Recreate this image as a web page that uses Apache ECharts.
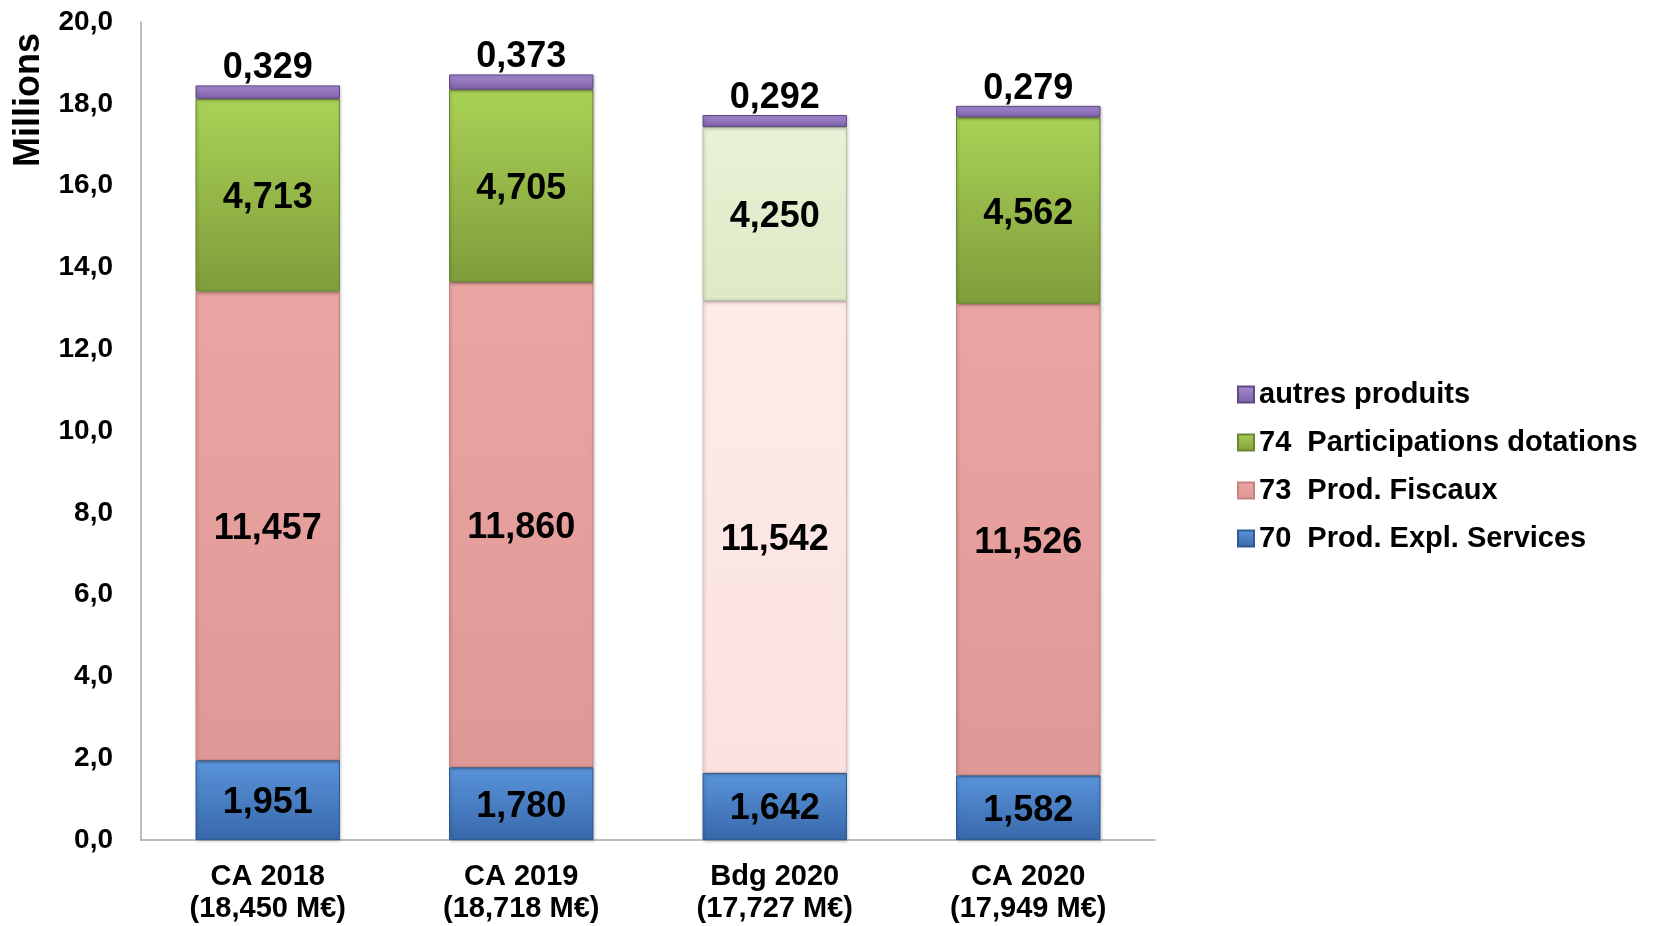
<!DOCTYPE html>
<html>
<head>
<meta charset="utf-8">
<script src="https://cdn.jsdelivr.net/npm/echarts@6/dist/echarts.min.js"></script>
<style>
  html, body { margin: 0; padding: 0; background: #ffffff; }
  #chart { width: 1657px; height: 926px; }
</style>
</head>
<body>
<div id="chart"></div>
<script>
// ---- data ----
const categories = ['CA 2018\n(18,450 M€)', 'CA 2019\n(18,718 M€)', 'Bdg 2020\n(17,727 M€)', 'CA 2020\n(17,949 M€)'];
const prodExplServices = [1.951, 1.780, 1.642, 1.582];   // 70
const prodFiscaux = [11.457, 11.860, 11.542, 11.526];     // 73
const participations = [4.713, 4.705, 4.250, 4.562];     // 74
const autresProduits = [0.329, 0.373, 0.292, 0.279];
const seriesNames = ['70  Prod. Expl. Services', '73  Prod. Fiscaux', '74  Participations dotations', 'autres produits'];
const yTicks = { min: 0, max: 20, interval: 2 };
const budgetIndex = 2; // "Bdg 2020" drawn with pale colours

// ---- styling ----
const FONT = '"Liberation Sans", Arial, sans-serif';
function grad(top, bottom) {
  return new echarts.graphic.LinearGradient(0, 0, 0, 1, [
    { offset: 0, color: top },
    { offset: 1, color: bottom }
  ]);
}
const palette = {
  blue:   { fill: grad('#5a94da', '#3868ab'), border: '#2f5a94' },
  pink:   { fill: grad('#eaa5a2', '#e09896'), border: '#c48483' },
  green:  { fill: grad('#aad256', '#7f9d3b'), border: '#6c8633' },
  purple: { fill: grad('#a98ad6', '#7b5fa3'), border: '#5e4a80' },
  pinkPale:  { fill: grad('#fdebe9', '#fbe2df'), border: '#d8c2c0' },
  greenPale: { fill: grad('#e8f2d6', '#dde9c6'), border: '#b7c3a4' }
};
function fmt3(v) { return v.toFixed(3).replace('.', ','); }

function buildData(values, normal, pale) {
  return values.map((v, i) => {
    const p = (i === budgetIndex && pale) ? pale : normal;
    return { value: v, itemStyle: { color: p.fill, borderColor: p.border } };
  });
}

const baseItem = {
  borderWidth: 1,
  shadowColor: 'rgba(0,0,0,0.25)',
  shadowBlur: 3,
  shadowOffsetX: 1,
  shadowOffsetY: 1
};
const labelInside = {
  show: true, position: 'inside', color: '#000', fontFamily: FONT,
  fontWeight: 'bold', fontSize: 36, offset: [0, 3],
  formatter: p => fmt3(p.value)
};

const chart = echarts.init(document.getElementById('chart'), null, { renderer: 'canvas' });
chart.setOption({
  backgroundColor: '#ffffff',
  animation: false,
  grid: { left: 141, right: 502, top: 22, bottom: 86, containLabel: false },
  xAxis: {
    type: 'category',
    data: categories,
    axisLine: { lineStyle: { color: '#a6a6a6', width: 1.5 } },
    axisTick: { show: false },
    axisLabel: {
      color: '#000', fontFamily: FONT, fontWeight: 'bold', fontSize: 29,
      lineHeight: 32, margin: 21, interval: 0
    }
  },
  yAxis: {
    type: 'value',
    min: yTicks.min, max: yTicks.max, interval: yTicks.interval,
    axisLine: { show: true, lineStyle: { color: '#a6a6a6', width: 1.5 } },
    axisTick: { show: false },
    splitLine: { show: false },
    axisLabel: {
      color: '#000', fontFamily: FONT, fontWeight: 'bold', fontSize: 28, margin: 28,
      formatter: v => v.toFixed(1).replace('.', ',')
    }
  },
  legend: {
    orient: 'vertical',
    left: 1237, top: 380, padding: 0,
    itemWidth: 16, itemHeight: 16, itemGap: 19,
    icon: 'rect',
    data: [seriesNames[3], seriesNames[2], seriesNames[1], seriesNames[0]],
    textStyle: { color: '#000', fontFamily: FONT, fontWeight: 'bold', fontSize: 29, lineHeight: 29 }
  },
  graphic: [{
    type: 'text', x: 29, y: 100, rotation: Math.PI / 2,
    style: { text: 'Millions', fill: '#000', font: 'bold 36px ' + FONT, align: 'center', verticalAlign: 'middle' }
  }],
  series: [
    {
      name: seriesNames[0], type: 'bar', stack: 'total', barWidth: '57%',
      itemStyle: Object.assign({ color: palette.blue.fill, borderColor: palette.blue.border }, baseItem),
      label: labelInside,
      data: buildData(prodExplServices, palette.blue)
    },
    {
      name: seriesNames[1], type: 'bar', stack: 'total',
      itemStyle: Object.assign({ color: palette.pink.fill, borderColor: palette.pink.border }, baseItem),
      label: labelInside,
      data: buildData(prodFiscaux, palette.pink, palette.pinkPale)
    },
    {
      name: seriesNames[2], type: 'bar', stack: 'total',
      itemStyle: Object.assign({ color: palette.green.fill, borderColor: palette.green.border }, baseItem),
      label: labelInside,
      data: buildData(participations, palette.green, palette.greenPale)
    },
    {
      name: seriesNames[3], type: 'bar', stack: 'total',
      itemStyle: Object.assign({ color: palette.purple.fill, borderColor: palette.purple.border }, baseItem),
      label: Object.assign({}, labelInside, { position: 'top', distance: 2, offset: [0, 3] }),
      data: buildData(autresProduits, palette.purple)
    }
  ]
});
</script>
</body>
</html>
